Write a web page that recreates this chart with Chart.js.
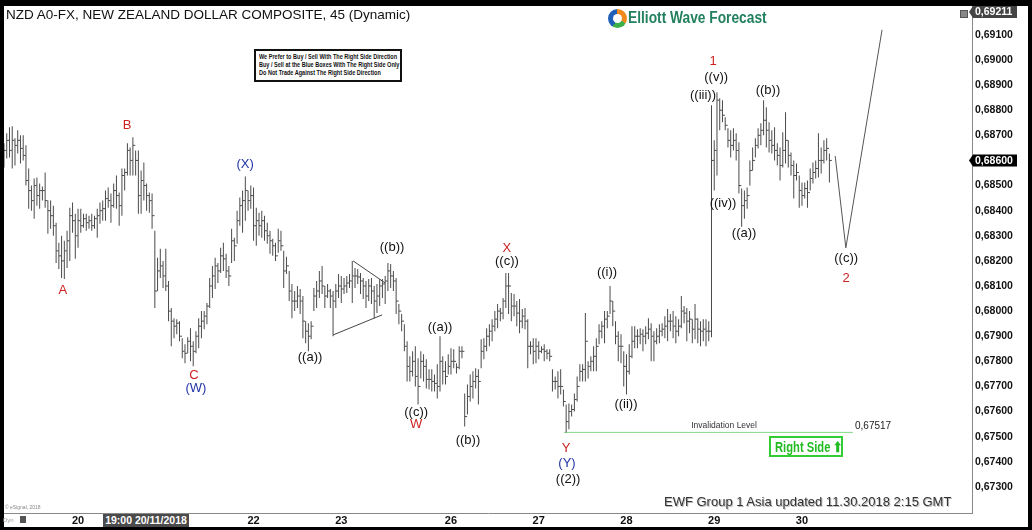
<!DOCTYPE html>
<html>
<head>
<meta charset="utf-8">
<script src="https://cdn.jsdelivr.net/npm/chart.js@4.4.0/dist/chart.umd.min.js"></script>
<style>
  html, body { margin: 0; padding: 0; }
  body { width: 1032px; height: 530px; background: #000; position: relative; overflow: hidden;
         font-family: "Liberation Sans", Arial, sans-serif; }
  #frame { position: absolute; left: 4px; top: 6px; width: 1024px; height: 521px; background: #fff; }
  #frame canvas { display: block; }
  .ov { position: absolute; white-space: nowrap; }
  #title { left: 6px; top: 7px; font-size: 13.5px; color: #111; }
  #notice { left: 254px; top: 49px; width: 148px; height: 33px; border: 2px solid #111; box-sizing: border-box; background: #fff; }
  #notice div { position: absolute; left: 3px; font-size: 7px; font-weight: bold; color: #111; transform: scaleX(0.79); transform-origin: left center; white-space: nowrap; }
  #logoIcon { left: 608px; top: 9px; width: 19px; height: 19px; border-radius: 50%;
              background: conic-gradient(#f08a1c 0deg 120deg, #3bb04a 120deg 210deg, #1f5fb8 210deg 360deg); }
  #logoIcon::after { content: ""; position: absolute; left: 5px; top: 5px; width: 9px; height: 9px; border-radius: 50%; background: #fff; }
  #logoText { left: 628px; top: 9px; font-size: 16px; font-weight: bold; color: #23805f; transform: scaleX(0.86); transform-origin: left top; }
  #footer { left: 664px; top: 494px; font-size: 13px; color: #333; text-shadow: 1px 1px 0 #bbb; }
  #rightSide { left: 769px; top: 436px; width: 74px; height: 21px; border: 2px solid #33cc33; box-sizing: border-box; }
  #rightSide span { position: absolute; left: 4px; top: 1px; font-size: 14px; font-weight: bold; color: #22bb22; transform: scaleX(0.8); transform-origin: left top; }
  #dateBox { left: 103px; top: 514px; width: 86px; height: 13px; background: #4b4b4b; color: #fff; font-size: 10.5px; font-weight: bold; text-align: center; line-height: 13px; }
  #esig { left: 5px; top: 504px; font-size: 5px; color: #888; }
  #dyn { left: 3px; top: 517px; font-size: 6px; color: #999; }
  #dynIcon { left: 20px; top: 516px; width: 6px; height: 7px; background: #555; }
  #cornerIcon { left: 960px; top: 10px; width: 6px; height: 6px; background: #888; border: 1px solid #555; }
</style>
</head>
<body>
<div id="frame"><canvas id="myChart" width="1024" height="521"></canvas></div>
<div class="ov" id="title">NZD A0-FX, NEW ZEALAND DOLLAR COMPOSITE, 45 (Dynamic)</div>
<div class="ov" id="notice">
  <div style="top:2px">We Prefer to Buy / Sell With The Right Side Direction</div>
  <div style="top:10px">Buy / Sell at the Blue Boxes With The Right Side Only</div>
  <div style="top:18px">Do Not Trade Against The Right Side Direction</div>
</div>
<div class="ov" id="logoIcon"></div>
<div class="ov" id="logoText">Elliott Wave Forecast</div>
<div class="ov" id="footer">EWF Group 1 Asia updated 11.30.2018 2:15 GMT</div>
<div class="ov" id="rightSide"><span>Right Side &#x2B06;</span></div>
<div class="ov" id="dateBox">19:00 20/11/2018</div>
<div class="ov" id="esig">&copy; eSignal, 2018</div>
<div class="ov" id="dyn">Dyn</div>
<div class="ov" id="dynIcon"></div>
<div class="ov" id="cornerIcon"></div>
<script>
// 45 minute bars, one entry per bar
const hi = [0.68668,0.68708,0.68732,0.68736,0.68688,0.68720,0.68700,0.68700,0.68660,0.68568,
  0.68500,0.68528,0.68532,0.68508,0.68496,0.68552,0.68440,0.68440,0.68420,0.68352,
  0.68272,0.68300,0.68280,0.68320,0.68412,0.68432,0.68388,0.68408,0.68408,0.68388,
  0.68388,0.68380,0.68388,0.68380,0.68408,0.68432,0.68440,0.68480,0.68492,0.68468,
  0.68508,0.68540,0.68472,0.68568,0.68568,0.68668,0.68652,0.68692,0.68640,0.68640,
  0.68560,0.68592,0.68508,0.68472,0.68468,0.68320,0.68212,0.68248,0.68200,0.68248,
  0.68120,0.68012,0.67972,0.67968,0.67960,0.67892,0.67868,0.67896,0.67932,0.67880,
  0.67920,0.67972,0.68000,0.68000,0.68032,0.68132,0.68180,0.68212,0.68192,0.68252,
  0.68272,0.68228,0.68180,0.68328,0.68292,0.68400,0.68452,0.68480,0.68536,0.68480,
  0.68500,0.68492,0.68412,0.68392,0.68400,0.68380,0.68352,0.68320,0.68288,0.68272,
  0.68328,0.68320,0.68240,0.68216,0.68160,0.68108,0.68080,0.68100,0.68088,0.68060,
  0.67960,0.67952,0.67960,0.68092,0.68120,0.68160,0.68180,0.68100,0.68108,0.68088,
  0.68080,0.68108,0.68148,0.68140,0.68132,0.68140,0.68148,0.68200,0.68172,0.68168,
  0.68152,0.68132,0.68120,0.68128,0.68132,0.68100,0.68108,0.68128,0.68128,0.68140,
  0.68192,0.68188,0.68160,0.68132,0.68028,0.67988,0.67948,0.67880,0.67820,0.67840,
  0.67860,0.67812,0.67840,0.67828,0.67808,0.67768,0.67768,0.67748,0.67788,0.67900,
  0.67820,0.67800,0.67828,0.67852,0.67848,0.67792,0.67860,0.67860,0.67672,0.67708,
  0.67748,0.67760,0.67772,0.67768,0.67888,0.67892,0.67932,0.67948,0.67968,0.68000,
  0.68028,0.68012,0.68052,0.68152,0.68152,0.68072,0.68068,0.68040,0.68048,0.68008,
  0.68012,0.67968,0.67880,0.67892,0.67892,0.67880,0.67860,0.67868,0.67848,0.67848,
  0.67768,0.67740,0.67760,0.67768,0.67688,0.67628,0.67632,0.67628,0.67672,0.67740,
  0.67788,0.67788,0.67992,0.67800,0.67820,0.67860,0.67892,0.67948,0.67960,0.68000,
  0.68000,0.68100,0.68040,0.67960,0.67920,0.67908,0.67840,0.67828,0.67868,0.67940,
  0.67940,0.67928,0.67932,0.67928,0.67940,0.67972,0.67952,0.67920,0.67932,0.67948,
  0.67952,0.67980,0.68008,0.67988,0.68000,0.67980,0.67968,0.68060,0.68020,0.68012,
  0.68000,0.67968,0.68028,0.67972,0.67960,0.67968,0.67968,0.67960,0.68820,0.68680,
  0.68872,0.68848,0.68840,0.68772,0.68728,0.68720,0.68728,0.68708,0.68672,0.68488,
  0.68480,0.68492,0.68600,0.68652,0.68688,0.68728,0.68748,0.68840,0.68812,0.68752,
  0.68720,0.68732,0.68668,0.68652,0.68712,0.68792,0.68680,0.68632,0.68600,0.68588,
  0.68540,0.68512,0.68512,0.68520,0.68568,0.68592,0.68600,0.68708,0.68652,0.68680,
  0.68688,0.68628];

const lo = [0.68572,0.68608,0.68612,0.68568,0.68580,0.68628,0.68588,0.68600,0.68500,0.68408,
  0.68400,0.68368,0.68420,0.68408,0.68440,0.68412,0.68308,0.68328,0.68300,0.68192,
  0.68168,0.68132,0.68128,0.68172,0.68200,0.68312,0.68208,0.68252,0.68312,0.68332,
  0.68320,0.68328,0.68320,0.68328,0.68292,0.68348,0.68360,0.68360,0.68412,0.68352,
  0.68412,0.68408,0.68340,0.68380,0.68480,0.68540,0.68540,0.68540,0.68540,0.68388,
  0.68388,0.68440,0.68400,0.68392,0.68328,0.68012,0.68080,0.68132,0.68092,0.68080,
  0.67960,0.67860,0.67892,0.67908,0.67880,0.67812,0.67792,0.67832,0.67800,0.67780,
  0.67832,0.67852,0.67892,0.67928,0.67948,0.68012,0.68052,0.68088,0.68112,0.68152,
  0.68160,0.68132,0.68100,0.68192,0.68200,0.68268,0.68340,0.68312,0.68360,0.68400,
  0.68408,0.68280,0.68260,0.68300,0.68292,0.68280,0.68268,0.68228,0.68220,0.68200,
  0.68232,0.68240,0.68092,0.68148,0.68040,0.67972,0.68000,0.68012,0.67988,0.67892,
  0.67872,0.67840,0.67888,0.68000,0.68012,0.68052,0.68068,0.68012,0.68052,0.68012,
  0.67900,0.68012,0.68052,0.68032,0.68068,0.68072,0.68092,0.68032,0.68092,0.68108,
  0.68068,0.68048,0.68012,0.68040,0.68028,0.67972,0.67992,0.68020,0.68052,0.68028,
  0.68080,0.68092,0.68080,0.67988,0.67948,0.67920,0.67840,0.67720,0.67720,0.67740,
  0.67700,0.67628,0.67732,0.67720,0.67692,0.67688,0.67680,0.67680,0.67652,0.67680,
  0.67708,0.67708,0.67748,0.67748,0.67772,0.67752,0.67768,0.67812,0.67540,0.67588,
  0.67640,0.67652,0.67692,0.67628,0.67772,0.67808,0.67840,0.67860,0.67880,0.67920,
  0.67932,0.67960,0.67968,0.68012,0.67988,0.67960,0.67980,0.67940,0.67912,0.67932,
  0.67928,0.67772,0.67828,0.67788,0.67792,0.67808,0.67832,0.67800,0.67808,0.67800,
  0.67680,0.67688,0.67652,0.67668,0.67620,0.67517,0.67530,0.67580,0.67600,0.67640,
  0.67720,0.67720,0.67720,0.67732,0.67760,0.67760,0.67760,0.67868,0.67892,0.67872,
  0.67932,0.67988,0.67940,0.67868,0.67800,0.67792,0.67700,0.67668,0.67748,0.67812,
  0.67852,0.67852,0.67868,0.67840,0.67868,0.67888,0.67800,0.67800,0.67868,0.67872,
  0.67900,0.67892,0.67880,0.67920,0.67892,0.67872,0.67900,0.67932,0.67952,0.67880,
  0.67912,0.67872,0.67888,0.67872,0.67860,0.67880,0.67860,0.67880,0.67896,0.68480,
  0.68540,0.68720,0.68752,0.68720,0.68652,0.68612,0.68640,0.68600,0.68468,0.68336,
  0.68368,0.68408,0.68500,0.68560,0.68612,0.68648,0.68660,0.68700,0.68652,0.68632,
  0.68628,0.68600,0.68580,0.68520,0.68572,0.68588,0.68572,0.68540,0.68448,0.68520,
  0.68412,0.68420,0.68448,0.68412,0.68480,0.68508,0.68528,0.68532,0.68548,0.68588,
  0.68600,0.68512];

const cl = [0.68640,0.68680,0.68640,0.68680,0.68660,0.68680,0.68648,0.68620,0.68520,0.68480,
  0.68440,0.68500,0.68460,0.68480,0.68480,0.68440,0.68400,0.68380,0.68340,0.68240,
  0.68220,0.68200,0.68240,0.68280,0.68380,0.68360,0.68300,0.68360,0.68340,0.68368,
  0.68352,0.68360,0.68340,0.68368,0.68380,0.68400,0.68408,0.68448,0.68440,0.68420,
  0.68480,0.68460,0.68420,0.68540,0.68552,0.68640,0.68600,0.68660,0.68600,0.68460,
  0.68520,0.68500,0.68460,0.68440,0.68380,0.68080,0.68160,0.68180,0.68140,0.68100,
  0.68000,0.67960,0.67940,0.67952,0.67900,0.67840,0.67832,0.67880,0.67860,0.67840,
  0.67900,0.67940,0.67960,0.67980,0.68020,0.68100,0.68140,0.68180,0.68160,0.68220,
  0.68208,0.68160,0.68140,0.68280,0.68260,0.68360,0.68420,0.68440,0.68480,0.68440,
  0.68460,0.68340,0.68360,0.68340,0.68360,0.68320,0.68300,0.68280,0.68260,0.68220,
  0.68280,0.68260,0.68160,0.68180,0.68080,0.68040,0.68040,0.68060,0.68040,0.67960,
  0.67920,0.67900,0.67940,0.68060,0.68080,0.68120,0.68100,0.68060,0.68080,0.68060,
  0.68040,0.68080,0.68100,0.68088,0.68100,0.68112,0.68120,0.68140,0.68140,0.68136,
  0.68120,0.68100,0.68060,0.68100,0.68080,0.68040,0.68060,0.68100,0.68108,0.68120,
  0.68160,0.68140,0.68120,0.68040,0.68000,0.67960,0.67860,0.67780,0.67760,0.67800,
  0.67740,0.67700,0.67800,0.67780,0.67728,0.67728,0.67720,0.67712,0.67700,0.67800,
  0.67760,0.67740,0.67780,0.67800,0.67800,0.67776,0.67840,0.67840,0.67580,0.67660,
  0.67700,0.67720,0.67740,0.67720,0.67840,0.67860,0.67900,0.67920,0.67940,0.67968,
  0.68000,0.67992,0.68040,0.68100,0.68100,0.68020,0.68020,0.67992,0.67960,0.67980,
  0.67960,0.67860,0.67860,0.67840,0.67860,0.67840,0.67848,0.67840,0.67832,0.67820,
  0.67720,0.67720,0.67700,0.67700,0.67640,0.67560,0.67600,0.67608,0.67648,0.67700,
  0.67760,0.67768,0.67880,0.67780,0.67800,0.67820,0.67860,0.67920,0.67940,0.67968,
  0.67980,0.68040,0.68000,0.67900,0.67860,0.67860,0.67780,0.67760,0.67820,0.67880,
  0.67900,0.67900,0.67908,0.67900,0.67912,0.67928,0.67900,0.67880,0.67900,0.67920,
  0.67928,0.67940,0.67960,0.67960,0.67940,0.67920,0.67940,0.68000,0.67992,0.67960,
  0.67968,0.67928,0.67968,0.67928,0.67920,0.67928,0.67920,0.67920,0.68600,0.68640,
  0.68840,0.68800,0.68780,0.68740,0.68680,0.68660,0.68680,0.68640,0.68500,0.68420,
  0.68440,0.68460,0.68560,0.68600,0.68660,0.68700,0.68720,0.68760,0.68720,0.68680,
  0.68660,0.68640,0.68620,0.68580,0.68640,0.68680,0.68620,0.68580,0.68540,0.68552,
  0.68480,0.68460,0.68488,0.68472,0.68528,0.68552,0.68568,0.68600,0.68600,0.68640,
  0.68648,0.68600];

// day starts (bar index) and their labels on the time axis
const dayTicks = [27, 59, 91, 123, 163, 195, 227, 259, 291];
const dayLabels = ['20', '21', '22', '23', '26', '27', '28', '29', '30'];

// price axis labels
const priceTicks = [0.673, 0.674, 0.675, 0.676, 0.677, 0.678, 0.679, 0.680, 0.681, 0.682,
  0.683, 0.684, 0.685, 0.686, 0.687, 0.688, 0.689, 0.690, 0.691];

// triangle trend lines, projected path and invalidation level
const triTopIdx = [127.3, 139.0];
const triTopPrice = [0.68200, 0.68112];
const triLowIdx = [120.0, 137.9];
const triLowPrice = [0.67905, 0.67985];
const pathIdx = [303.1, 307.0, 320.2];
const pathPrice = [0.68618, 0.68252, 0.69120];
const invalidLevel = 0.67517;
const invalidIdx = [204.2, 309.6];
const lastPrice = 0.68600;
const topPrice = 0.69211;

// wave labels: text, bar index, price, degree
const waves = [
  ['A', 21.5, 0.68081, 'r'], ['B', 44.9, 0.68738, 'r'], ['C', 69.3, 0.67742, 'r'],
  ['(W)', 70.0, 0.67694, 'b'], ['(X)', 87.9, 0.68586, 'b'],
  ['((a))', 111.6, 0.67814, 'k'], ['((b))', 141.5, 0.68252, 'k'], ['((c))', 150.3, 0.67595, 'k'],
  ['W', 150.3, 0.67547, 'r'], ['((a))', 159.0, 0.67937, 'k'], ['((b))', 169.2, 0.67487, 'k'],
  ['X', 183.4, 0.68248, 'r'], ['((c))', 183.4, 0.68196, 'k'],
  ['Y', 205.0, 0.67455, 'r'], ['(Y)', 205.3, 0.67392, 'b'], ['((2))', 205.7, 0.67328, 'k'],
  ['((i))', 219.9, 0.68156, 'k'], ['((ii))', 226.8, 0.67627, 'k'],
  ['((iii))', 254.9, 0.68857, 'k'], ['1', 258.6, 0.68993, 'r'], ['((v))', 259.7, 0.68929, 'k'],
  ['((iv))', 262.2, 0.68427, 'k'], ['((a))', 269.9, 0.68308, 'k'], ['((b))', 278.6, 0.68877, 'k'],
  ['((c))', 307.1, 0.68208, 'k'], ['2', 307.1, 0.68132, 'r']
];
const degreeColors = { r: '#cc2222', b: '#2233a6', k: '#111111' };

const barColor = '#4a4a4a';
const fmt = (v) => v.toFixed(5).replace('.', ',');

function marker(ctx, left, cy, text, bg) {
  ctx.fillStyle = bg;
  ctx.beginPath();
  ctx.moveTo(left - 3, cy);
  ctx.lineTo(left + 1, cy - 6);
  ctx.lineTo(left + 45, cy - 6);
  ctx.lineTo(left + 45, cy + 6);
  ctx.lineTo(left + 1, cy + 6);
  ctx.closePath();
  ctx.fill();
  ctx.fillStyle = '#fff';
  ctx.font = 'bold 10.5px "Liberation Sans", Arial, sans-serif';
  ctx.textAlign = 'left';
  ctx.textBaseline = 'middle';
  ctx.fillText(text, left + 3, cy + 0.5);
}

const overlay = {
  id: 'overlay',
  afterDatasetsDraw(chart) {
    const { ctx, scales: { x, y } } = chart;
    ctx.save();
    ctx.textAlign = 'center';
    ctx.textBaseline = 'middle';
    ctx.font = '13px "Liberation Sans", Arial, sans-serif';
    waves.forEach(([t, i, p, d]) => {
      ctx.fillStyle = degreeColors[d];
      ctx.fillText(t, x.getPixelForValue(i), y.getPixelForValue(p));
    });
    const yInv = y.getPixelForValue(invalidLevel);
    ctx.fillStyle = '#333';
    ctx.font = '8.5px "Liberation Sans", Arial, sans-serif';
    ctx.fillText('Invalidation Level', x.getPixelForValue(262.6), yInv - 7);
    ctx.fillStyle = '#222';
    ctx.textAlign = 'left';
    ctx.font = '10px "Liberation Sans", Arial, sans-serif';
    ctx.fillText(fmt(invalidLevel), x.getPixelForValue(invalidIdx[1]) + 2, yInv - 6);
    ctx.restore();
  },
  afterDraw(chart) {
    const { ctx, scales: { y }, chartArea } = chart;
    ctx.save();
    marker(ctx, chartArea.right, y.getPixelForValue(lastPrice), fmt(lastPrice), '#000');
    marker(ctx, chartArea.right, 6, fmt(topPrice), '#444');
    ctx.restore();
  }
};

Chart.defaults.font.family = '"Liberation Sans", Arial, sans-serif';

const ctx = document.getElementById('myChart').getContext('2d');
const myChart = new Chart(ctx, {
  type: 'bar',
  data: {
    datasets: [
      {
        type: 'bar',
        data: hi.map((h, i) => ({ x: i, y: [lo[i], h] })),
        backgroundColor: barColor,
        barThickness: 1,
        borderWidth: 0,
        inflateAmount: 0
      },
      {
        type: 'scatter',
        data: cl.map((c, i) => ({ x: i + 0.45, y: c })),
        pointStyle: 'line',
        pointRadius: 1.2,
        pointBorderColor: barColor,
        pointBorderWidth: 1
      },
      {
        type: 'line',
        data: triTopIdx.map((v, k) => ({ x: v, y: triTopPrice[k] })),
        borderColor: '#444', borderWidth: 1, pointRadius: 0, tension: 0
      },
      {
        type: 'line',
        data: triLowIdx.map((v, k) => ({ x: v, y: triLowPrice[k] })),
        borderColor: '#444', borderWidth: 1, pointRadius: 0, tension: 0
      },
      {
        type: 'line',
        data: pathIdx.map((v, k) => ({ x: v, y: pathPrice[k] })),
        borderColor: '#555', borderWidth: 1, pointRadius: 0, tension: 0
      },
      {
        type: 'line',
        data: invalidIdx.map(v => ({ x: v, y: invalidLevel })),
        borderColor: '#86d986', borderWidth: 1, pointRadius: 0, tension: 0
      }
    ]
  },
  options: {
    responsive: false,
    animation: false,
    events: [],
    layout: { padding: 0, autoPadding: false },
    plugins: { legend: { display: false }, tooltip: { enabled: false } },
    scales: {
      x: {
        type: 'linear',
        min: 0,
        max: 353,
        offset: false,
        grid: { display: false, drawTicks: false },
        border: { display: true, color: '#888' },
        ticks: {
          color: '#111',
          font: { size: 11, weight: 'bold' },
          padding: 1,
          autoSkip: false,
          maxRotation: 0,
          callback: (v) => {
            const k = dayTicks.indexOf(v);
            return k >= 0 ? dayLabels[k] : '';
          }
        },
        afterBuildTicks: (axis) => { axis.ticks = dayTicks.map(v => ({ value: v })); },
        afterFit: (scale) => { scale.height = 14; scale.paddingLeft = 0; scale.paddingRight = 0; }
      },
      y: {
        type: 'linear',
        position: 'right',
        min: 0.67196,
        max: 0.69215,
        grid: { display: false, drawTicks: false },
        border: { display: true, color: '#888' },
        ticks: {
          color: '#111',
          font: { size: 10.5, weight: 'bold' },
          padding: 3,
          callback: (v) => fmt(v)
        },
        afterBuildTicks: (axis) => { axis.ticks = priceTicks.map(v => ({ value: v })); },
        afterFit: (scale) => { scale.width = 56; scale.paddingTop = 0; scale.paddingBottom = 0; }
      }
    }
  },
  plugins: [overlay]
});
</script>
</body>
</html>
